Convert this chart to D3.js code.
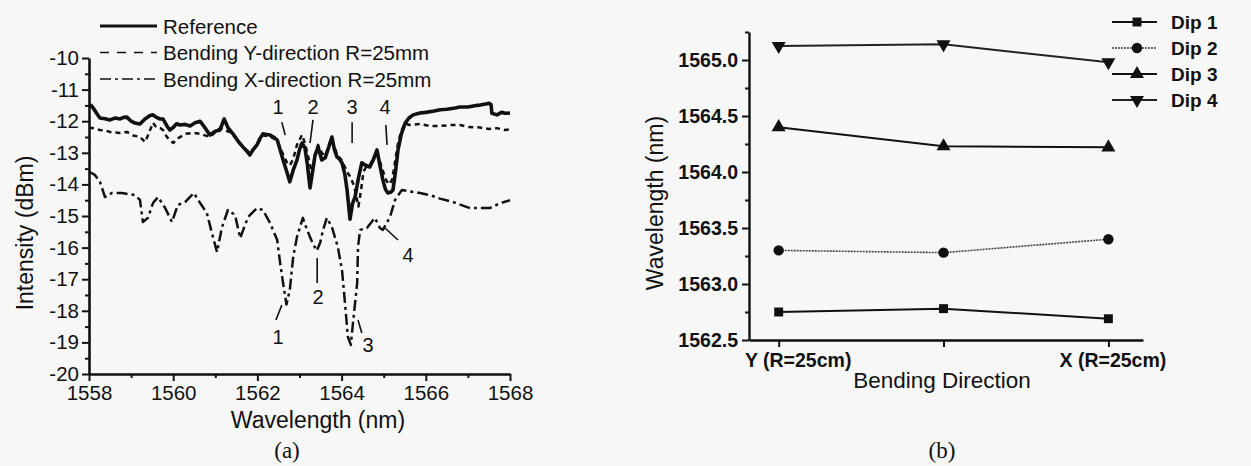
<!DOCTYPE html>
<html>
<head>
<meta charset="utf-8">
<script src="https://cdn.jsdelivr.net/npm/d3@7"></script>
<style>
  html, body { margin: 0; padding: 0; background: #f7f7f7; }
  svg { display: block; }
  text { font-family: "Liberation Sans", Arial, Helvetica, sans-serif; fill: #111; }
</style>
</head>
<body>
<svg id="fig" width="1251" height="466"></svg>
<script>
// ---------- (a) transmission spectra ----------
const refWl = [1558.00,1558.05,1558.10,1558.18,1558.26,1558.38,1558.50,1558.62,1558.74,1558.82,1558.90,1559.00,1559.09,1559.21,1559.33,1559.45,1559.52,1559.60,1559.69,1559.76,1559.85,1559.92,1560.00,1560.08,1560.16,1560.28,1560.40,1560.52,1560.64,1560.75,1560.87,1561.00,1561.11,1561.21,1561.30,1561.42,1561.55,1561.66,1561.75,1561.82,1561.90,1561.99,1562.06,1562.13,1562.22,1562.30,1562.38,1562.47,1562.55,1562.61,1562.70,1562.77,1562.85,1562.94,1563.00,1563.06,1563.13,1563.19,1563.25,1563.31,1563.37,1563.44,1563.53,1563.61,1563.70,1563.77,1563.83,1563.89,1563.95,1564.01,1564.08,1564.13,1564.20,1564.26,1564.32,1564.40,1564.48,1564.58,1564.67,1564.76,1564.84,1564.91,1564.98,1565.04,1565.10,1565.16,1565.22,1565.28,1565.34,1565.42,1565.51,1565.60,1565.70,1565.86,1566.00,1566.20,1566.34,1566.50,1566.70,1566.81,1567.00,1567.20,1567.29,1567.45,1567.50,1567.55,1567.57,1567.69,1567.80,1567.88,1568.00];
const refDb = [-11.55,-11.50,-11.58,-11.75,-11.90,-11.92,-11.96,-11.90,-11.93,-11.88,-11.87,-12.00,-12.06,-12.09,-11.93,-11.82,-11.80,-11.88,-11.93,-11.93,-12.15,-12.28,-12.20,-12.08,-12.12,-12.10,-12.15,-12.05,-12.00,-12.20,-12.44,-12.32,-12.28,-11.93,-12.20,-12.40,-12.65,-12.82,-12.95,-13.07,-12.90,-12.75,-12.55,-12.40,-12.42,-12.44,-12.50,-12.59,-12.95,-13.23,-13.61,-13.92,-13.55,-13.23,-12.90,-12.69,-12.85,-13.40,-14.11,-13.60,-13.07,-12.82,-13.23,-13.16,-12.80,-12.50,-12.90,-13.13,-13.20,-13.32,-13.70,-14.18,-15.10,-14.60,-14.40,-13.80,-13.32,-13.40,-13.45,-13.20,-12.91,-13.40,-13.86,-14.15,-14.27,-14.25,-14.18,-13.60,-12.91,-12.40,-12.06,-11.90,-11.80,-11.74,-11.72,-11.68,-11.64,-11.62,-11.58,-11.55,-11.55,-11.50,-11.49,-11.45,-11.43,-11.48,-11.75,-11.80,-11.72,-11.75,-11.74];

const bendYWl = [1558.00,1558.10,1558.26,1558.40,1558.50,1558.62,1558.74,1558.90,1559.05,1559.21,1559.33,1559.40,1559.52,1559.60,1559.69,1559.76,1559.85,1559.92,1560.00,1560.10,1560.30,1560.50,1560.64,1560.87,1561.00,1561.11,1561.21,1561.35,1561.50,1561.66,1561.82,1561.99,1562.13,1562.30,1562.47,1562.61,1562.70,1562.77,1562.85,1562.94,1563.06,1563.13,1563.22,1563.30,1563.37,1563.44,1563.53,1563.61,1563.70,1563.77,1563.89,1564.01,1564.13,1564.20,1564.30,1564.40,1564.46,1564.52,1564.60,1564.67,1564.76,1564.84,1564.95,1565.05,1565.13,1565.20,1565.28,1565.34,1565.42,1565.51,1565.60,1565.86,1566.10,1566.34,1566.60,1566.81,1567.00,1567.29,1567.50,1567.69,1567.88,1568.00];
const bendYDb = [-12.20,-12.22,-12.28,-12.30,-12.34,-12.36,-12.37,-12.34,-12.45,-12.50,-12.66,-12.45,-12.05,-12.20,-12.22,-12.28,-12.50,-12.59,-12.69,-12.55,-12.40,-12.37,-12.40,-12.50,-12.35,-12.22,-12.28,-12.34,-12.55,-12.82,-13.00,-12.75,-12.45,-12.48,-12.62,-13.05,-13.30,-13.40,-13.20,-12.75,-12.43,-12.70,-13.20,-13.65,-13.10,-12.75,-13.00,-13.10,-12.75,-12.55,-13.05,-13.25,-13.60,-13.75,-14.05,-14.70,-14.20,-13.60,-13.40,-13.40,-13.15,-12.95,-13.45,-13.85,-14.00,-13.85,-13.20,-12.70,-12.30,-12.06,-12.12,-12.09,-12.15,-12.15,-12.12,-12.12,-12.18,-12.20,-12.25,-12.22,-12.28,-12.26];

const bendXWl = [1558.00,1558.14,1558.26,1558.38,1558.55,1558.78,1559.09,1559.21,1559.28,1559.40,1559.52,1559.64,1559.81,1559.97,1560.11,1560.28,1560.49,1560.64,1560.80,1560.90,1561.04,1561.16,1561.30,1561.47,1561.59,1561.78,1561.99,1562.13,1562.30,1562.47,1562.54,1562.61,1562.69,1562.77,1562.85,1562.94,1563.08,1563.18,1563.30,1563.41,1563.49,1563.56,1563.65,1563.77,1563.91,1564.01,1564.08,1564.15,1564.22,1564.27,1564.37,1564.39,1564.44,1564.60,1564.79,1564.91,1564.98,1565.15,1565.27,1565.43,1565.70,1565.86,1566.10,1566.34,1566.65,1567.05,1567.52,1567.76,1568.00];
const bendXDb = [-13.60,-13.70,-13.92,-14.40,-14.27,-14.27,-14.34,-14.49,-15.19,-15.06,-14.59,-14.40,-14.75,-15.19,-14.65,-14.56,-14.27,-14.59,-14.91,-15.44,-16.14,-15.35,-14.81,-14.97,-15.70,-15.03,-14.75,-14.81,-15.22,-15.76,-16.49,-17.12,-17.80,-17.34,-16.30,-15.66,-15.06,-15.44,-15.82,-16.10,-15.85,-15.44,-15.06,-15.35,-15.98,-16.71,-17.75,-18.83,-19.08,-18.39,-17.12,-15.98,-15.44,-15.38,-15.06,-15.38,-15.44,-15.03,-14.49,-14.18,-14.24,-14.27,-14.34,-14.45,-14.56,-14.75,-14.75,-14.60,-14.50];

const spectraNames = ["Reference", "Bending Y-direction R=25mm", "Bending X-direction R=25mm"];
const wlTicks = [1558, 1560, 1562, 1564, 1566, 1568];
const dbTicks = [-10, -11, -12, -13, -14, -15, -16, -17, -18, -19, -20];

// dip labels with their pointer lines (text position, pointer start, pointer end)
const dipText   = ["1", "2", "3", "4", "1", "2", "3", "4"];
const dipTextWl = [1562.49, 1563.32, 1564.25, 1565.03, 1562.49, 1563.44, 1564.63, 1565.58];
const dipTextDb = [-11.55, -11.55, -11.55, -11.55, -18.83, -17.56, -19.08, -16.23];
const dipFromWl = [1562.58, 1563.32, 1564.25, 1565.05, 1562.44, 1563.42, 1564.48, 1565.34];
const dipFromDb = [-12.03, -11.96, -12.03, -12.12, -18.29, -17.12, -18.70, -15.76];
const dipToWl   = [1562.66, 1563.25, 1564.25, 1565.08, 1562.58, 1563.42, 1564.39, 1565.03];
const dipToDb   = [-12.44, -12.69, -12.69, -12.75, -17.82, -16.33, -18.29, -15.38];

// ---------- (b) dip wavelength vs bending direction ----------
const directions = ["Y (R=25cm)", "", "X (R=25cm)"];
const dipNames = ["Dip 1", "Dip 2", "Dip 3", "Dip 4"];
const dip1 = [1562.75, 1562.78, 1562.69];
const dip2 = [1563.30, 1563.28, 1563.40];
const dip3 = [1564.40, 1564.23, 1564.22];
const dip4 = [1565.125, 1565.14, 1564.98];
const dipWlTicks = [1562.5, 1563.0, 1563.5, 1564.0, 1564.5, 1565.0];

const svg = d3.select("#fig");
const hyphenInt = d => String(d);   // plain hyphen-minus for negative labels

// ===== panel (a) =====
const xa = d3.scaleLinear().domain([1558, 1568]).range([89, 510]);
const ya = d3.scaleLinear().domain([-20, -10]).range([374, 58]);
const ga = svg.append("g");

const styleA = [
  { width: 3.6, dash: null },
  { width: 2.5, dash: "5,4" },
  { width: 2.5, dash: "11,4,3,4" }
];
const seriesA = [
  d3.zip(refWl, refDb),
  d3.zip(bendYWl, bendYDb),
  d3.zip(bendXWl, bendXDb)
];
const lineA = d3.line().x(d => xa(d[0])).y(d => ya(d[1]));

ga.selectAll("path.spec").data(seriesA).join("path")
  .attr("class", "spec")
  .attr("d", lineA)
  .attr("fill", "none")
  .attr("stroke", "#111")
  .attr("stroke-linejoin", "round")
  .attr("stroke-width", (d, i) => styleA[i].width)
  .attr("stroke-dasharray", (d, i) => styleA[i].dash);

// minor ticks
ga.append("g").attr("transform", "translate(0,374)")
  .call(d3.axisBottom(xa).tickValues(d3.range(1559, 1568, 2)).tickSize(4).tickFormat("").tickSizeOuter(0))
  .call(g => g.select(".domain").remove());
ga.append("g").attr("transform", "translate(89,0)")
  .call(d3.axisLeft(ya).tickValues(d3.range(-19.5, -10, 1)).tickSize(4).tickFormat("").tickSizeOuter(0))
  .call(g => g.select(".domain").remove());

// major axes
const axA = ga.append("g").attr("transform", "translate(0,374)")
  .call(d3.axisBottom(xa).tickValues(wlTicks).tickFormat(hyphenInt).tickSize(7).tickPadding(4).tickSizeOuter(0));
const ayA = ga.append("g").attr("transform", "translate(89,0)")
  .call(d3.axisLeft(ya).tickValues(dbTicks).tickFormat(hyphenInt).tickSize(7).tickPadding(3).tickSizeOuter(0));
[axA, ayA].forEach(g => {
  g.selectAll("text").style("font-size", "20.5px").attr("fill", "#111");
});
ga.selectAll(".tick line").attr("stroke", "#111").attr("stroke-width", 2);
ga.selectAll(".domain").attr("stroke", "#111").attr("stroke-width", 2.6);

ga.append("text").attr("x", 318).attr("y", 428).attr("text-anchor", "middle")
  .style("font-size", "23px").text("Wavelength (nm)");
ga.append("text").attr("transform", "translate(33,233) rotate(-90)").attr("text-anchor", "middle")
  .style("font-size", "23px").text("Intensity (dBm)");
ga.append("text").attr("x", 287).attr("y", 458).attr("text-anchor", "middle")
  .style("font-family", "'Liberation Serif', 'Times New Roman', serif").style("font-size", "23px").text("(a)");

// dip annotations
const ann = ga.append("g");
ann.selectAll("line").data(dipText).join("line")
  .attr("x1", (d, i) => xa(dipFromWl[i])).attr("y1", (d, i) => ya(dipFromDb[i]))
  .attr("x2", (d, i) => xa(dipToWl[i])).attr("y2", (d, i) => ya(dipToDb[i]))
  .attr("stroke", "#111").attr("stroke-width", 1.6);
ann.selectAll("text").data(dipText).join("text")
  .attr("x", (d, i) => xa(dipTextWl[i])).attr("y", (d, i) => ya(dipTextDb[i]))
  .attr("dy", "0.36em").attr("text-anchor", "middle")
  .style("font-size", "20px").text(d => d);

// legend
const legA = ga.append("g");
spectraNames.forEach((name, i) => {
  const yy = 26 + i * 26.5;
  legA.append("line").attr("x1", 100).attr("x2", 157).attr("y1", yy).attr("y2", yy)
    .attr("stroke", "#111").attr("stroke-width", styleA[i].width - 0.8)
    .attr("stroke-dasharray", i === 1 ? "9,8" : styleA[i].dash);
  legA.append("text").attr("x", 163).attr("y", yy + 7.5)
    .style("font-size", "20.5px").text(name);
});

// ===== panel (b) =====
const xb = d3.scaleLinear().domain([0.82, 3.21]).range([749, 1143]);
const yb = d3.scaleLinear().domain([1562.5, 1565.25]).range([340, 32]);
const gb = svg.append("g");

gb.append("g").attr("transform", "translate(749,0)")
  .call(d3.axisLeft(yb).tickValues(d3.range(1562.75, 1565.3, 0.5)).tickSize(4).tickFormat("").tickSizeOuter(0))
  .call(g => g.select(".domain").remove());
const ayB = gb.append("g").attr("transform", "translate(749,0)")
  .call(d3.axisLeft(yb).tickValues(dipWlTicks).tickFormat(d3.format(".1f")).tickSize(7).tickPadding(4).tickSizeOuter(0));
const axB = gb.append("g").attr("transform", "translate(0,340)")
  .call(d3.axisBottom(xb).tickValues([1, 2, 3]).tickFormat((d, i) => directions[i]).tickSize(7).tickPadding(6).tickSizeOuter(0));
[ayB, axB].forEach(g => {
  g.selectAll("text").style("font-size", "19.5px").style("font-weight", "bold").attr("fill", "#111");
});
axB.selectAll("text").attr("dx", (d, i) => i === 0 ? 19 : 4);
gb.selectAll(".tick line").attr("stroke", "#111").attr("stroke-width", 2);
gb.selectAll(".domain").attr("stroke", "#111").attr("stroke-width", 2.4);

gb.append("text").attr("x", 942).attr("y", 388).attr("text-anchor", "middle")
  .style("font-size", "22.5px").text("Bending Direction");
gb.append("text").attr("transform", "translate(663,203) rotate(-90)").attr("text-anchor", "middle")
  .style("font-size", "23px").text("Wavelength (nm)");
gb.append("text").attr("x", 942).attr("y", 458).attr("text-anchor", "middle")
  .style("font-family", "'Liberation Serif', 'Times New Roman', serif").style("font-size", "23px").text("(b)");

const dipSeries = [dip1, dip2, dip3, dip4];
const dipSymbols = [
  { type: d3.symbolSquare, size: 80, rot: 0 },
  { type: d3.symbolCircle, size: 85, rot: 0 },
  { type: d3.symbolTriangle, size: 85, rot: 0 },
  { type: d3.symbolTriangle, size: 85, rot: 180 }
];
const dipLine = [
  { stroke: "#111", width: 2.0, dash: null },
  { stroke: "#444", width: 1.6, dash: "2,1" },
  { stroke: "#111", width: 2.0, dash: null },
  { stroke: "#222", width: 2.0, dash: null }
];
const lineB = d3.line().x((d, i) => xb(i + 1)).y(d => yb(d));

dipSeries.forEach((vals, k) => {
  gb.append("path").attr("d", lineB(vals)).attr("fill", "none")
    .attr("stroke", dipLine[k].stroke).attr("stroke-width", dipLine[k].width)
    .attr("stroke-dasharray", dipLine[k].dash);
  gb.selectAll(null).data(vals).join("path")
    .attr("transform", (d, i) => `translate(${xb(i + 1)},${yb(d)}) rotate(${dipSymbols[k].rot})`)
    .attr("d", d3.symbol(dipSymbols[k].type, dipSymbols[k].size))
    .attr("fill", "#111");
});

// legend
dipNames.forEach((name, k) => {
  const yy = 22 + k * 26;
  gb.append("line").attr("x1", 1112).attr("x2", 1157).attr("y1", yy).attr("y2", yy)
    .attr("stroke", dipLine[k].stroke).attr("stroke-width", dipLine[k].width)
    .attr("stroke-dasharray", dipLine[k].dash);
  gb.append("path").attr("transform", `translate(1137,${yy}) rotate(${dipSymbols[k].rot})`)
    .attr("d", d3.symbol(dipSymbols[k].type, dipSymbols[k].size)).attr("fill", "#111");
  gb.append("text").attr("x", 1171).attr("y", yy + 6.5)
    .style("font-size", "19px").style("font-weight", "bold").text(name);
});
</script>
</body>
</html>
